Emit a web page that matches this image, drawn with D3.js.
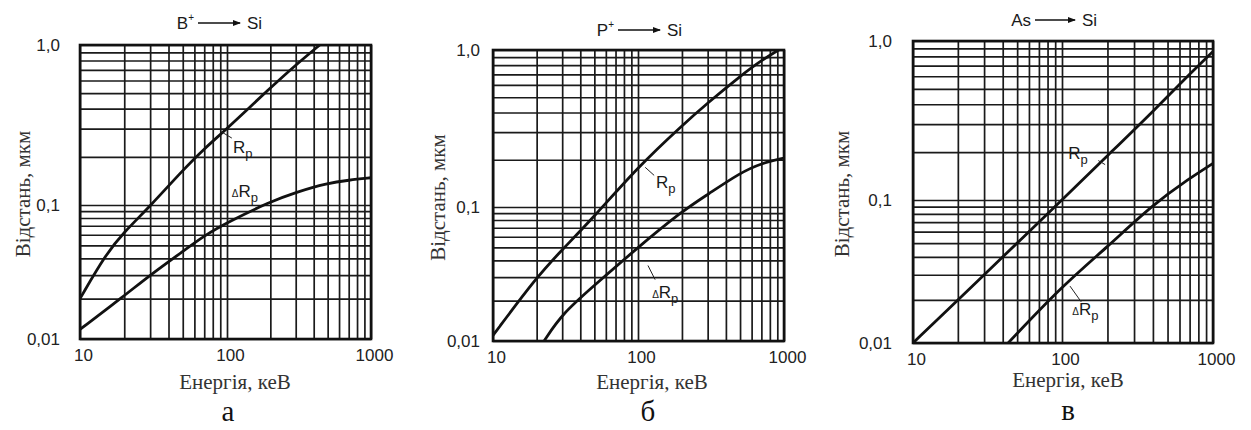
<!DOCTYPE html>
<html>
<head>
<meta charset="utf-8">
<script src="https://cdn.jsdelivr.net/npm/d3@7"></script>
<style>
  body { margin: 0; background: #fff; }
  svg { display: block; }
  .grid line { stroke: #1a1a1a; stroke-width: 1.7; }
  .grid path { display: none; }
  .ticks path, .ticks line { display: none; }
  .ticks text { font-family: "Liberation Sans", Arial, sans-serif; font-size: 17px; fill: #222; }
  .sans { font-family: "Liberation Sans", Arial, sans-serif; fill: #1a1a1a; }
  .serif { font-family: "Liberation Serif", "Times New Roman", serif; fill: #333; }
  .curve { fill: none; stroke: #111; stroke-width: 2.8; stroke-linejoin: round; }
  .frame { fill: none; stroke: #111; stroke-width: 2.6; }
  .leader { stroke: #222; stroke-width: 1; }
</style>
</head>
<body>
<div id="dataviz"></div>
<script>
// axis ticks and texts
var energyTicks = [10, 100, 1000];
var distanceTicks = [0.01, 0.1, 1];
var distanceLabels = ["0,01", "0,1", "1,0"];
var panelLetters = ["а", "б", "в"];
var ions = ["B", "P", "As"];
var ionCharges = ["+", "+", ""];
var targetName = "Si";
var xTitle = "Енергія, кеВ";
var yTitle = "Відстань, мкм";

// B+ -> Si
var energyRpB = [10, 15, 20, 30, 50, 70, 100, 200, 300, 440, 500];
var rpB = [0.020, 0.043, 0.063, 0.098, 0.165, 0.225, 0.300, 0.540, 0.750, 1.000, 1.100];
var energyDrpB = [10, 20, 30, 50, 70, 100, 200, 300, 500, 700, 1000];
var drpB = [0.0118, 0.021, 0.030, 0.045, 0.059, 0.074, 0.105, 0.120, 0.137, 0.143, 0.148];

// P+ -> Si
var energyRpP = [10, 20, 30, 50, 100, 200, 300, 500, 700, 1000];
var rpP = [0.011, 0.030, 0.048, 0.085, 0.180, 0.330, 0.460, 0.680, 0.860, 1.050];
var energyDrpP = [22.5, 30, 50, 100, 200, 300, 500, 700, 1000];
var drpP = [0.010, 0.016, 0.026, 0.050, 0.093, 0.120, 0.165, 0.190, 0.205];

// As -> Si
var energyRpAs = [10, 20, 30, 50, 100, 200, 400, 700, 1000];
var rpAs = [0.010, 0.020, 0.030, 0.050, 0.100, 0.190, 0.360, 0.620, 0.860];
var energyDrpAs = [43.5, 100, 200, 400, 700, 1000];
var drpAs = [0.010, 0.025, 0.047, 0.093, 0.137, 0.170];

var W = 1251, H = 430;

// layout of each scanned panel (pixel ranges of 10/100/1000 keV and 0.01/0.1/1 um)
var panels = [
  { energyRp: energyRpB, rp: rpB, energyDrp: energyDrpB, drp: drpB,
    xr: [80, 227, 371], yr: [339, 205, 45], tickPad: 20,
    head: { y: 23, a0: 198, a1: 240 }, yTitleX: 23, xTitleX: 235, xTitleY: 389, letterX: 228, letterY: 421,
    rpLabel: [110, 0.211], rpLeader: [[92, 0.286], [108, 0.262]],
    drpLabel: [108, 0.112], drpLeader: null },
  { energyRp: energyRpP, rp: rpP, energyDrp: energyDrpP, drp: drpP,
    xr: [493, 638, 784], yr: [341, 207, 50], tickPad: 13,
    head: { y: 30, a0: 618, a1: 660 }, yTitleX: 438, xTitleX: 652, xTitleY: 389, letterX: 648, letterY: 421,
    rpLabel: [133, 0.132], rpLeader: [[112, 0.179], [129, 0.159]],
    drpLabel: [125, 0.021], drpLeader: [[117, 0.0366], [131, 0.0287]] },
  { energyRp: energyRpAs, rp: rpAs, energyDrp: energyDrpAs, drp: drpAs,
    xr: [913, 1062, 1213], yr: [343, 200, 41], tickPad: 21,
    head: { y: 20, a0: 1035, a1: 1075 }, yTitleX: 842, xTitleX: 1068, xTitleY: 387, letterX: 1068, letterY: 420,
    rpLabel: [110, 0.18], rpLeader: [[174, 0.177], [193, 0.167]],
    drpLabel: [117, 0.0158], drpLeader: [[113, 0.025], [134, 0.0194]] }
];

var svg = d3.select("#dataviz").append("svg")
    .attr("width", W)
    .attr("height", H)
    .attr("viewBox", `0 0 ${W} ${H}`);

svg.append("rect").attr("width", W).attr("height", H).attr("fill", "#fff");

svg.append("defs").append("marker")
    .attr("id", "arrow")
    .attr("markerUnits", "userSpaceOnUse")
    .attr("markerWidth", 8).attr("markerHeight", 6)
    .attr("refX", 7).attr("refY", 3)
    .attr("orient", "auto")
    .append("path")
    .attr("d", "M0,0 L8,3 L0,6 Z")
    .attr("fill", "#111");

panels.forEach(function(p, i) {
    var x = d3.scaleLog().domain([10, 100, 1000]).range(p.xr);
    var y = d3.scaleLog().domain([0.01, 0.1, 1]).range(p.yr);
    var left = p.xr[0], right = p.xr[2], top = p.yr[2], bottom = p.yr[0];
    var g = svg.append("g");

    // log grid
    g.append("g")
        .attr("class", "grid")
        .attr("transform", "translate(0," + bottom + ")")
        .call(d3.axisBottom(x).tickValues(x.ticks()).tickSize(-(bottom - top)).tickFormat(""));
    g.append("g")
        .attr("class", "grid")
        .attr("transform", "translate(" + left + ",0)")
        .call(d3.axisLeft(y).tickValues(y.ticks()).tickSize(-(right - left)).tickFormat(""));

    g.append("rect")
        .attr("class", "frame")
        .attr("x", left).attr("y", top)
        .attr("width", right - left).attr("height", bottom - top);

    // tick labels
    g.append("g")
        .attr("class", "ticks")
        .attr("transform", "translate(3," + bottom + ")")
        .call(d3.axisBottom(x).tickValues(energyTicks).tickFormat(d3.format("d")).tickSize(0).tickPadding(10));
    g.append("g")
        .attr("class", "ticks")
        .attr("transform", "translate(" + left + ",0)")
        .call(d3.axisLeft(y).tickValues(distanceTicks).tickFormat((d, k) => distanceLabels[k]).tickSize(0).tickPadding(p.tickPad));

    // curves
    var clipId = "clip" + i;
    svg.select("defs").append("clipPath").attr("id", clipId)
        .append("rect").attr("x", left).attr("y", top).attr("width", right - left).attr("height", bottom - top);

    var line = d3.line().x(d => x(d[0])).y(d => y(d[1])).curve(d3.curveBasis);
    [[p.energyRp, p.rp], [p.energyDrp, p.drp]].forEach(function(s) {
        g.append("path")
            .attr("class", "curve")
            .attr("clip-path", "url(#" + clipId + ")")
            .attr("d", line(s[0].map((e, k) => [e, s[1][k]])));
    });

    // curve labels
    function label(at, delta) {
        var t = g.append("text").attr("class", "sans")
            .attr("x", x(at[0])).attr("y", y(at[1]))
            .style("font-size", "17px");
        if (delta) t.append("tspan").style("font-size", "10px").text("Δ");
        t.append("tspan").text("R");
        t.append("tspan").attr("dy", 5).style("font-size", "13px").text("p");
    }
    label(p.rpLabel, false);
    label(p.drpLabel, true);
    [p.rpLeader, p.drpLeader].forEach(function(l) {
        if (!l) return;
        g.append("line").attr("class", "leader")
            .attr("x1", x(l[0][0])).attr("y1", y(l[0][1]))
            .attr("x2", x(l[1][0])).attr("y2", y(l[1][1]));
    });

    // heading: ion -> Si
    var h = p.head;
    var ionText = g.append("text").attr("class", "sans")
        .attr("x", h.a0 - 4).attr("y", h.y + 6)
        .attr("text-anchor", "end")
        .style("font-size", "17px");
    ionText.append("tspan").text(ions[i]);
    if (ionCharges[i]) ionText.append("tspan").attr("dy", -8).style("font-size", "10px").text(ionCharges[i]);
    g.append("line")
        .attr("x1", h.a0).attr("x2", h.a1).attr("y1", h.y).attr("y2", h.y)
        .attr("stroke", "#111").attr("stroke-width", 1.3)
        .attr("marker-end", "url(#arrow)");
    g.append("text").attr("class", "sans")
        .attr("x", h.a1 + 7).attr("y", h.y + 6)
        .style("font-size", "17px")
        .text(targetName);

    // axis titles
    g.append("text").attr("class", "serif")
        .attr("transform", "translate(" + p.yTitleX + "," + ((top + bottom) / 2 + 2) + ") rotate(-90)")
        .attr("text-anchor", "middle")
        .attr("dy", "0.35em")
        .style("font-size", "21px")
        .text(yTitle);
    g.append("text").attr("class", "serif")
        .attr("x", p.xTitleX).attr("y", p.xTitleY)
        .attr("text-anchor", "middle")
        .style("font-size", "21px")
        .text(xTitle);

    g.append("text").attr("class", "serif")
        .attr("x", p.letterX).attr("y", p.letterY)
        .attr("text-anchor", "middle")
        .style("font-size", "29px")
        .style("fill", "#111")
        .text(panelLetters[i]);
});
</script>
</body>
</html>
